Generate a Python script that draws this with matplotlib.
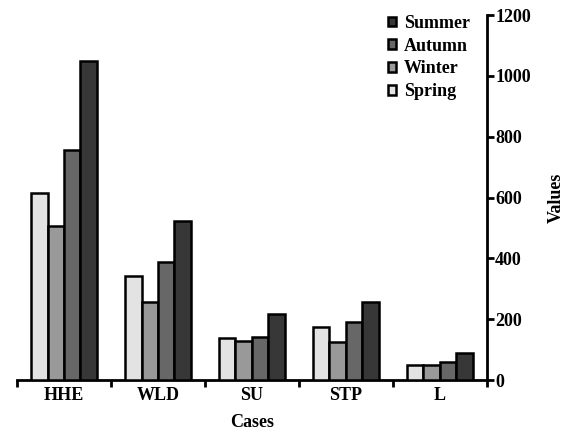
import numpy as np
import matplotlib
matplotlib.use("Agg")
import matplotlib.pyplot as plt

cases = ["HHE", "WLD", "SU", "STP", "L"]
seasons = ["Spring", "Winter", "Autumn", "Summer"]
spring = [615, 344, 138, 176, 50]
winter = [507, 256, 130, 125, 50]
autumn = [755, 388, 143, 191, 61]
summer = [1049, 523, 217, 256, 88]
colors = ["#e3e3e3", "#999999", "#676767", "#373737"]

plt.rcParams['font.family'] = ['Liberation Serif', 'DejaVu Serif']
plt.rcParams['font.weight'] = 'bold'
plt.rcParams['axes.labelweight'] = 'bold'


def main():
    fig = plt.figure(figsize=(5.68, 4.32), dpi=100)
    ax = fig.add_axes([0.03, 0.12, 0.827, 0.845])

    x = np.arange(len(cases))
    width = 0.175
    handles = []
    for i, (vals, name) in enumerate(zip([spring, winter, autumn, summer], seasons)):
        b = ax.bar(x + (i - 1.5) * width, vals, width, color=colors[i],
                   edgecolor='black', linewidth=1.8, label=name, zorder=3)
        handles.append(b)

    ax.set_xlim(-0.5, len(cases) - 0.5)
    ax.set_ylim(0, 1200)

    # ticks at group boundaries, labels at group centres
    ax.set_xticks(np.arange(len(cases) + 1) - 0.5)
    ax.set_xticklabels([])
    ax.set_xticks(x, minor=True)
    ax.set_xticklabels(cases, minor=True, fontsize=13)
    ax.tick_params(axis='x', which='minor', length=0, pad=5)
    ax.tick_params(axis='x', which='major', direction='out', length=5, width=2)

    ax.yaxis.tick_right()
    ax.yaxis.set_label_position('right')
    ax.set_yticks(np.arange(0, 1201, 200))
    ax.tick_params(axis='y', direction='out', length=5, width=2, labelsize=13, pad=1)

    for s in ['top', 'left']:
        ax.spines[s].set_visible(False)
    ax.spines['bottom'].set_linewidth(2)
    ax.spines['right'].set_linewidth(2)

    ax.set_xlabel('Cases', fontsize=13, labelpad=7)
    ax.set_ylabel('Values', fontsize=13, labelpad=12)

    ax.legend(handles[::-1], seasons[::-1], loc='upper left',
              bbox_to_anchor=(0.755, 1.045), frameon=False, fontsize=13,
              handlelength=0.45, handleheight=0.45, handletextpad=0.45,
              labelspacing=0.32)

    fig.savefig('out.png', dpi=100)


if __name__ == "__main__":
    main()
